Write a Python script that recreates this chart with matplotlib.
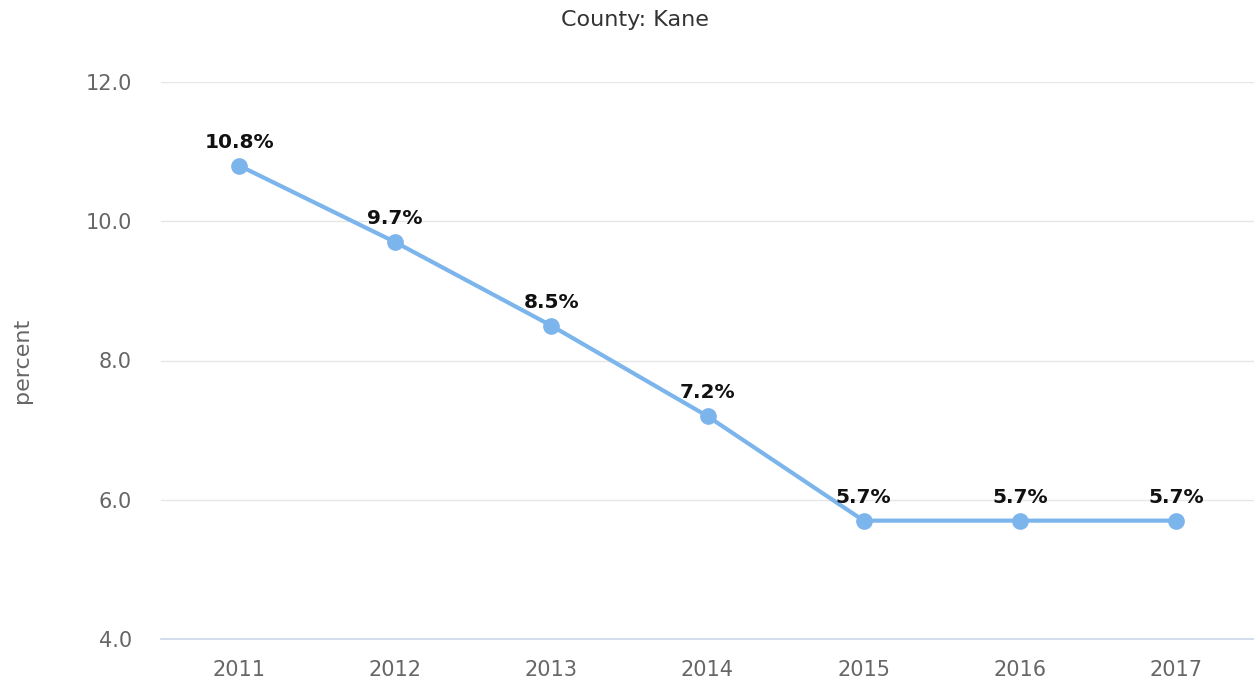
import matplotlib
matplotlib.use("Agg")
import matplotlib.pyplot as plt

years = ['2011', '2012', '2013', '2014', '2015', '2016', '2017']
values = [10.8, 9.7, 8.5, 7.2, 5.7, 5.7, 5.7]
yticks = [4.0, 6.0, 8.0, 10.0, 12.0]

line_color = '#7cb5ec'
grey = '#666666'

fig = plt.figure(figsize=(12.54, 6.87), dpi=100)
ax = fig.add_axes([161/1254, 1 - 639/687, 1 - 161/1254, (639 - 82)/687])

x = list(range(len(years)))
ax.plot(x, values, color=line_color, lw=3, marker='o', ms=11, zorder=3)
for xi, v in zip(x, values):
    ax.annotate(f'{v}%', (xi, v), xytext=(0, 10), textcoords='offset points',
                ha='center', va='bottom', fontsize=14.5, fontweight='bold', color='#111111')

ax.set_xlim(-0.5, len(years) - 0.5)
ax.set_ylim(4, 12)
ax.set_yticks(yticks)
ax.set_yticklabels([f'{t:.1f}' for t in yticks])
ax.set_xticks(x)
ax.set_xticklabels(years)
ax.tick_params(axis='both', length=0, labelsize=15, labelcolor=grey)
ax.tick_params(axis='y', pad=21)
ax.tick_params(axis='x', pad=15)
ax.grid(axis='y', color='#e6e6e6', lw=1)
ax.set_axisbelow(True)
for s in ['top', 'right', 'left']:
    ax.spines[s].set_visible(False)
ax.spines['bottom'].set_color('#ccd6eb')
ax.spines['bottom'].set_linewidth(1.2)

ax.set_ylabel('percent', fontsize=16, color=grey)
ax.yaxis.set_label_coords(-129/1093, 0.5)
fig.text(635/1254, 1 - 20/687, 'County: Kane', ha='center', va='center', fontsize=16, color='#333333')

fig.savefig('out.png', dpi=100)
